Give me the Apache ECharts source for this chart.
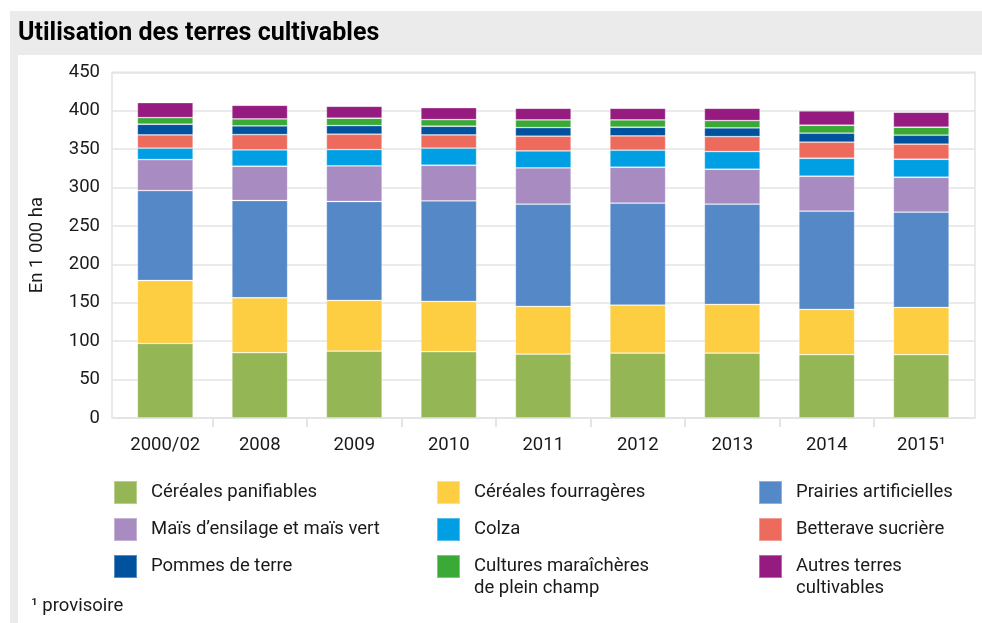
<!DOCTYPE html>
<html>
<head>
<meta charset="utf-8">
<script src="https://cdn.jsdelivr.net/npm/echarts@6/dist/echarts.min.js"></script>
<style>
  html, body { margin: 0; padding: 0; background: #ffffff; }
  #chart { width: 982px; height: 623px; }
</style>
</head>
<body>
<div id="chart"></div>
<script>
const categories = ['2000/02', '2008', '2009', '2010', '2011', '2012', '2013', '2014', '2015¹'];
const yTicks = [0, 50, 100, 150, 200, 250, 300, 350, 400, 450];

const cerealesPanifiables   = [97.1, 85.0, 87.1, 86.3, 83.2, 84.5, 84.5, 82.4, 82.4];
const cerealesFourrageres   = [81.9, 71.5, 65.9, 65.4, 62.0, 62.5, 63.3, 58.9, 61.5];
const prairiesArtificielles = [117.1, 126.6, 128.8, 131.0, 133.1, 132.6, 130.5, 127.9, 124.0];
const maisEnsilage          = [40.3, 44.6, 46.4, 46.3, 47.3, 46.8, 45.5, 45.5, 45.5];
const colza                 = [14.8, 21.3, 21.2, 22.2, 22.1, 22.2, 23.0, 23.4, 23.4];
const betterave             = [17.3, 19.9, 20.0, 17.3, 19.1, 18.6, 19.5, 20.9, 19.6];
const pommesDeTerre         = [13.9, 11.3, 11.2, 11.3, 11.2, 11.3, 11.3, 11.7, 11.7];
const culturesMaraicheres   = [8.6, 9.1, 9.6, 8.6, 10.0, 9.5, 9.5, 10.4, 10.4];
const autresTerres          = [19.5, 17.8, 15.6, 15.6, 15.2, 15.2, 16.1, 18.6, 19.5];

// legend labels (line breaks as in the original legend)
const seriesLabels = [
  'Céréales panifiables',
  'Céréales fourragères',
  'Prairies artificielles',
  'Maïs d’ensilage et maïs vert',
  'Colza',
  'Betterave sucrière',
  'Pommes de terre',
  'Cultures maraîchères\nde plein champ',
  'Autres terres\ncultivables'
];
const seriesData = [cerealesPanifiables, cerealesFourrageres, prairiesArtificielles, maisEnsilage,
  colza, betterave, pommesDeTerre, culturesMaraicheres, autresTerres];
const colors = ['#95b654', '#fdce42', '#5488c7', '#a78bc1', '#009fe3', '#ed6b5d', '#00519e', '#3aa935', '#951b81'];

const FONT = 'Roboto';
const TXT = '#1a1a1a';
const GRIDC = '#e4e4e4';
const FS = 18.5;

const chart = echarts.init(document.getElementById('chart'), null, { renderer: 'canvas' });

const seriesNames = seriesLabels.map(s => s.replace('\n', ' '));

// legend layout: columns x, rows y (icon tops)
const colX = [113, 436, 758];
const rowY = [480, 517, 554];
const extraTexts = [];
const legends = seriesLabels.map((label, i) => {
  const col = i % 3, row = Math.floor(i / 3);
  const lines = label.split('\n');
  if (lines.length > 1) {
    extraTexts.push({
      type: 'text', left: colX[col] + 38, top: rowY[row] + 11.5 + 24 - FS / 2 - 1,
      style: { text: lines[1], fontFamily: FONT, fontSize: FS, fill: TXT }
    });
  }
  return {
    data: [seriesNames[i]],
    formatter: () => lines[0],
    left: colX[col],
    top: rowY[row],
    padding: 0,
    icon: 'rect',
    itemWidth: 23,
    itemHeight: 23,
    selectedMode: false,
    textStyle: { fontFamily: FONT, fontSize: FS, color: TXT, padding: [0, 0, 0, 9] }
  };
});

const option = {
  animation: false,
  textStyle: { fontFamily: FONT },
  title: {
    text: 'Utilisation des terres cultivables',
    left: 18, top: 21, padding: 0,
    textStyle: { fontFamily: FONT, fontSize: 25, fontWeight: 'bold', color: '#000' }
  },
  graphic: [
    { type: 'rect', z: -100, shape: { x: 10, y: 11, width: 972, height: 612 }, style: { fill: '#ebebeb' } },
    { type: 'rect', z: -99, shape: { x: 18, y: 55, width: 964, height: 568 }, style: { fill: '#ffffff' } },
    { type: 'text', left: 31, top: 597, style: { text: '¹ provisoire', fontFamily: FONT, fontSize: FS, fill: TXT } }
  ].concat(extraTexts),
  legend: legends,
  grid: [
    { left: 118, right: 13.5, top: 72.3, bottom: 205, containLabel: false },
    { left: 112, right: 7, top: 72.3, bottom: 205, show: true, borderColor: GRIDC, borderWidth: 1.5, backgroundColor: 'transparent' }
  ],
  xAxis: [
    {
      type: 'category', gridIndex: 0, data: categories,
      axisLine: { show: true, lineStyle: { color: GRIDC, width: 2 } },
      axisTick: { show: false },
      axisLabel: { fontFamily: FONT, fontSize: FS, color: TXT, margin: 18 }
    },
    { type: 'value', gridIndex: 1, show: false, min: 0, max: 1 },
    {
      type: 'value', gridIndex: 0, position: 'bottom', min: 0, max: categories.length,
      axisLine: { show: false }, axisLabel: { show: false }, splitLine: { show: false },
      axisTick: { show: true, length: 9, lineStyle: { color: GRIDC, width: 2 },
        customValues: categories.slice(1).map((c, i) => i + 1) }
    }
  ],
  yAxis: [
    {
      type: 'value', gridIndex: 0, min: yTicks[0], max: yTicks[yTicks.length - 1], interval: 50,
      splitLine: { show: false }, axisLine: { show: false }, axisTick: { show: false },
      axisLabel: { fontFamily: FONT, fontSize: FS, color: TXT, margin: 18 },
      name: 'En 1 000 ha', nameLocation: 'middle', nameRotate: 90, nameGap: 71,
      nameTextStyle: { fontFamily: FONT, fontSize: FS, color: TXT }
    },
    {
      type: 'value', gridIndex: 1, min: yTicks[0], max: yTicks[yTicks.length - 1], interval: 50,
      axisLabel: { show: false }, axisLine: { show: false }, axisTick: { show: false },
      splitLine: { show: true, lineStyle: { color: GRIDC, width: 1.5 } }
    }
  ],
  series: seriesNames.map((name, i) => ({
    name: name,
    type: 'bar',
    stack: 'total',
    xAxisIndex: 0, yAxisIndex: 0,
    barCategoryGap: '41%',
    data: seriesData[i],
    itemStyle: { color: colors[i], borderColor: 'rgba(255,255,255,0.35)', borderWidth: 0.8 }
  }))
};
chart.setOption(option);
</script>
</body>
</html>
